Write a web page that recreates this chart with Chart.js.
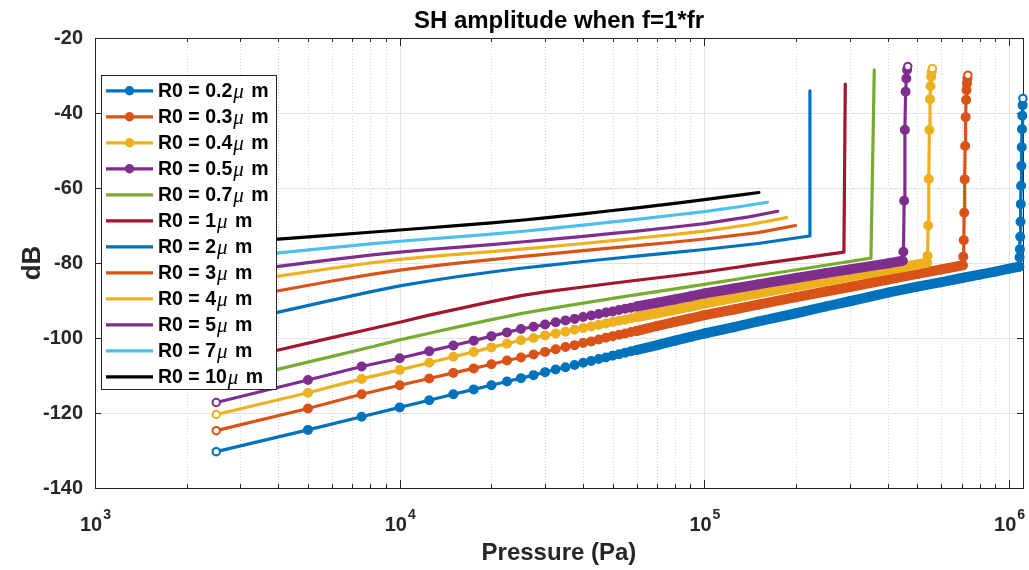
<!DOCTYPE html>
<html><head><meta charset="utf-8">
<script src="https://cdn.jsdelivr.net/npm/chart.js@4.4.1/dist/chart.umd.min.js"></script>
<style>html,body{margin:0;padding:0;background:#fff;}#wrap{width:1029px;height:570px;}</style>
</head><body><div id="wrap"><canvas id="c" width="1029" height="570"></canvas></div>
<script>
// ---------- DATA ----------
const radiusLabels = ['0.2','0.3','0.4','0.5','0.7','1','2','3','4','5','7','10'];
const xTickValues = [1000, 10000, 100000, 1000000];
const xTickBase = ['10','10','10','10'];
const xTickExp = ['3','4','5','6'];
const yTickValues = [-140,-120,-100,-80,-60,-40,-20];

// marker series share this pressure grid (Pa)
const pressureGrid = [2500,5000,7500,10000,12500,15000,17500,20000,22500,25000,27500,30000,32500,35000,37500,40000,42500,45000,47500,50000,52500,55000,57500,60000,70000,80000,90000,100000,125000,150000,200000,250000,300000,400000];
const db_r02 = [-130.3,-124.5,-121.0,-118.5,-116.6,-115.0,-113.7,-112.6,-111.6,-110.7,-109.9,-109.1,-108.4,-107.8,-107.2,-106.6,-106.1,-105.6,-105.2,-104.7,-104.3,-103.9,-103.5,-103.2,-101.9,-100.7,-99.7,-98.8,-97.1,-95.6,-93.4,-91.6,-90.2,-87.9];
const tailP_r02 = [500000,600000,700000,800000,900000,1000000,1080000,1082500,1085000,1087500,1090000,1092500,1095000,1097500,1100000,1102500,1105000,1107500,1110000];
const tailDb_r02 = [-86.3,-85.1,-84.0,-83.1,-82.3,-81.5,-81.0,-78.5,-76.3,-73.0,-69.0,-64.3,-59.4,-54.1,-49.1,-44.3,-40.7,-37.9,-36.1];

const db_r03 = [-124.7,-118.8,-115.0,-112.6,-110.8,-109.3,-108.1,-107.0,-106.0,-105.2,-104.4,-103.7,-103.0,-102.4,-101.9,-101.3,-100.9,-100.4,-99.9,-99.5,-99.1,-98.8,-98.4,-98.1,-96.8,-95.7,-94.8,-93.9,-92.4,-91.1,-89.1,-87.6,-86.4,-84.4];
const tailP_r03 = [500000,600000,705000,707500,710000,712500,715000,717500,720000,722500,725000,727500,730000,732500];
const tailDb_r03 = [-82.9,-81.7,-80.6,-78.3,-73.9,-66.6,-57.7,-48.8,-41.1,-36.5,-33.9,-32.1,-30.8,-29.9];

const db_r04 = [-120.4,-114.6,-110.9,-108.5,-106.6,-105.0,-103.7,-102.5,-101.5,-100.6,-100.0,-99.3,-98.8,-98.3,-97.8,-97.3,-96.9,-96.5,-96.1,-95.7,-95.4,-95.1,-94.7,-94.4,-93.4,-92.4,-91.6,-90.8,-89.3,-88.1,-86.2,-84.8,-83.6,-81.8];
const tailP_r04 = [500000,537500,540000,542500,545000,547500,550000,552500,555000,557500,560000];
const tailDb_r04 = [-80.4,-79.9,-78.1,-70.0,-57.6,-44.5,-36.3,-32.8,-30.3,-29.0,-28.1];

const db_r05 = [-117.2,-111.2,-107.6,-105.4,-103.5,-102.0,-100.7,-99.5,-98.5,-97.6,-97.0,-96.4,-95.8,-95.3,-94.9,-94.4,-94.0,-93.6,-93.2,-92.9,-92.5,-92.2,-91.9,-91.6,-90.6,-89.7,-88.9,-88.1,-86.8,-85.7,-84.0,-82.7,-81.7,-80.1];
const tailP_r05 = [447500,450000,452500,455000,457500,460000,462500,465000];
const tailDb_r05 = [-79.4,-77.0,-63.4,-44.5,-34.3,-30.8,-28.5,-27.6];

// line-only series share this pressure grid (Pa)
const lineGrid = [2500,4000,6000,8000,10000,12500,15000,20000,25000,30000,40000,50000,60000,80000,100000];
const db_r07 = [-112.2,-108.3,-104.9,-102.45,-100.5,-98.75,-97.3,-95.1,-93.5,-92.35,-90.7,-89.45,-88.45,-86.9,-85.7];
const tailP_r07 = [150000,250000,352000,361000];
const tailDb_r07 = [-83.4,-80.6,-78.7,-28.5];
const db_r1 = [-106.9,-103.2,-99.9,-97.6,-95.8,-93.9,-92.5,-90.3,-88.7,-87.7,-86.4,-85.4,-84.6,-83.4,-82.4];
const tailP_r1 = [150000,200000,287000,290000];
const tailDb_r1 = [-80.3,-78.9,-77.1,-32.3];
const db_r2 = [-96.9,-93.1,-89.9,-87.7,-86.1,-84.8,-83.8,-82.4,-81.4,-80.7,-79.6,-78.8,-78.15,-77.15,-76.4];
const tailP_r2 = [150000,221000,222000];
const tailDb_r2 = [-74.8,-72.8,-34.1];
const db_r3 = [-90.6,-87.4,-84.8,-83.1,-81.9,-80.9,-80.15,-79.1,-78.3,-77.7,-76.7,-75.95,-75.35,-74.4,-73.6];
const tailP_r3 = [150000,199000];
const tailDb_r3 = [-71.9,-70.0];
const db_r4 = [-86.1,-83.5,-81.4,-80.0,-79.05,-78.3,-77.75,-76.95,-76.3,-75.75,-74.8,-74.05,-73.4,-72.35,-71.5];
const tailP_r4 = [140000,186000];
const tailDb_r4 = [-69.8,-67.9];
const db_r5 = [-83.3,-80.9,-79.1,-77.9,-77.1,-76.4,-75.9,-75.1,-74.4,-73.85,-72.9,-72.1,-71.5,-70.4,-69.5];
const tailP_r5 = [140000,174000];
const tailDb_r5 = [-67.7,-66.2];
const db_r7 = [-79.2,-77.3,-75.9,-74.9,-74.2,-73.6,-73.1,-72.3,-71.6,-70.95,-69.9,-69.05,-68.35,-67.2,-66.3];
const tailP_r7 = [130000,161000];
const tailDb_r7 = [-65.0,-63.8];
const db_r10 = [-74.9,-73.65,-72.55,-71.8,-71.2,-70.6,-70.1,-69.3,-68.6,-67.95,-66.9,-66.0,-65.3,-64.1,-63.1];
const tailP_r10 = [130000,151000];
const tailDb_r10 = [-61.9,-61.2];

// ---------- STYLE ----------
const C = {blue:'#0072BD', orange:'#D95319', yellow:'#EDB120', purple:'#7E2F8E', green:'#77AC30', lblue:'#4DBEEE', red:'#A2142F', black:'#000000'};
const seriesColors = [C.blue,C.orange,C.yellow,C.purple,C.green,C.red,C.blue,C.orange,C.yellow,C.purple,C.lblue,C.black];
const hasMarker = [true,true,true,true,false,false,false,false,false,false,false,false];
const FONT = "'Liberation Sans', Arial, Helvetica, sans-serif";
const AX = '#262626';

function pts(xs, ys){ return xs.map((x,i)=>({x:x, y:ys[i]})); }
const seriesData = [
  pts(pressureGrid.concat(tailP_r02), db_r02.concat(tailDb_r02)),
  pts(pressureGrid.concat(tailP_r03), db_r03.concat(tailDb_r03)),
  pts(pressureGrid.concat(tailP_r04), db_r04.concat(tailDb_r04)),
  pts(pressureGrid.concat(tailP_r05), db_r05.concat(tailDb_r05)),
  pts(lineGrid.concat(tailP_r07), db_r07.concat(tailDb_r07)),
  pts(lineGrid.concat(tailP_r1), db_r1.concat(tailDb_r1)),
  pts(lineGrid.concat(tailP_r2), db_r2.concat(tailDb_r2)),
  pts(lineGrid.concat(tailP_r3), db_r3.concat(tailDb_r3)),
  pts(lineGrid.concat(tailP_r4), db_r4.concat(tailDb_r4)),
  pts(lineGrid.concat(tailP_r5), db_r5.concat(tailDb_r5)),
  pts(lineGrid.concat(tailP_r7), db_r7.concat(tailDb_r7)),
  pts(lineGrid.concat(tailP_r10), db_r10.concat(tailDb_r10))
];

const datasets = seriesData.map((d,i)=>{
  const col = seriesColors[i];
  const n = d.length;
  const base = {
    label: 'R0 = ' + radiusLabels[i] + 'μ m',
    data: d, borderColor: col, backgroundColor: col,
    borderWidth: 3.2, tension: 0, clip: false, order: 11 - i,
    borderCapStyle: 'round', borderJoinStyle: 'round'
  };
  if (hasMarker[i]) {
    const hollow = idx => idx === 0 || idx === n - 1;
    base.pointRadius = ctx => hollow(ctx.dataIndex) ? 3.7 : 4.3;
    base.pointBorderColor = col;
    base.pointBorderWidth = ctx => hollow(ctx.dataIndex) ? 2.1 : 1.4;
    base.pointBackgroundColor = ctx => hollow(ctx.dataIndex) ? '#ffffff' : col;
    base.segment = { borderWidth: ctx => (ctx.p0.parsed.x >= 60000 && Math.abs(ctx.p1.x-ctx.p0.x) >= Math.abs(ctx.p1.y-ctx.p0.y)) ? 10 : 3.2 };
  } else {
    base.pointRadius = 0;
  }
  return base;
});

const xMinor = [];
[1000,10000,100000].forEach(d=>{ for(let k=2;k<=9;k++) xMinor.push(k*d); });

const matlabAxes = {
  id: 'matlabAxes',
  beforeDatasetsDraw(chart){
    const {ctx, chartArea:a, scales:{x,y}} = chart;
    ctx.save();
    ctx.lineWidth = 1;
    ctx.strokeStyle = '#cdcdcd'; ctx.setLineDash([1,2]);
    xMinor.forEach(v=>{ const p = Math.round(x.getPixelForValue(v))+0.5; ctx.beginPath(); ctx.moveTo(p,a.top); ctx.lineTo(p,a.bottom); ctx.stroke(); });
    ctx.setLineDash([]);
    ctx.strokeStyle = '#e3e3e3';
    xTickValues.forEach(v=>{ const p = Math.round(x.getPixelForValue(v))+0.5; if (p<=a.left+1||p>=a.right-1) return; ctx.beginPath(); ctx.moveTo(p,a.top); ctx.lineTo(p,a.bottom); ctx.stroke(); });
    yTickValues.forEach(v=>{ const p = Math.round(y.getPixelForValue(v))+0.5; if (p<=a.top+1||p>=a.bottom-1) return; ctx.beginPath(); ctx.moveTo(a.left,p); ctx.lineTo(a.right,p); ctx.stroke(); });
    ctx.strokeStyle = AX;
    ctx.strokeRect(Math.round(a.left)+0.5, Math.round(a.top)+0.5, Math.round(a.right-a.left), Math.round(a.bottom-a.top));
    ctx.beginPath();
    yTickValues.forEach(v=>{ const p = Math.round(y.getPixelForValue(v))+0.5; ctx.moveTo(a.left,p); ctx.lineTo(a.left+6,p); ctx.moveTo(a.right,p); ctx.lineTo(a.right-6,p); });
    xTickValues.forEach(v=>{ const p = Math.round(x.getPixelForValue(v))+0.5; ctx.moveTo(p,a.bottom); ctx.lineTo(p,a.bottom-8); ctx.moveTo(p,a.top); ctx.lineTo(p,a.top+8); });
    xMinor.forEach(v=>{ const p = Math.round(x.getPixelForValue(v))+0.5; ctx.moveTo(p,a.bottom); ctx.lineTo(p,a.bottom-4); ctx.moveTo(p,a.top); ctx.lineTo(p,a.top+4); });
    ctx.stroke();
    ctx.restore();
  },
  afterDraw(chart){
    const {ctx, chartArea:a, scales:{x}} = chart;
    ctx.save();
    ctx.fillStyle = AX;
    xTickValues.forEach((v,i)=>{
      const p = x.getPixelForValue(v);
      ctx.font = 'bold 20px ' + FONT; const w1 = ctx.measureText(xTickBase[i]).width;
      ctx.font = 'bold 14px ' + FONT; const w2 = ctx.measureText(xTickExp[i]).width;
      const s = p - (w1+w2)/2;
      ctx.textAlign = 'left'; ctx.textBaseline = 'alphabetic';
      ctx.font = 'bold 20px ' + FONT; ctx.fillText(xTickBase[i], s, 531);
      ctx.font = 'bold 14px ' + FONT; ctx.fillText(xTickExp[i], s + w1 + 1, 519);
    });
    ctx.textAlign = 'center'; ctx.textBaseline = 'alphabetic';
    ctx.font = 'bold 24px ' + FONT;
    ctx.fillText('Pressure (Pa)', (a.left+a.right)/2, 560);
    ctx.save(); ctx.translate(40, 263); ctx.rotate(-Math.PI/2);
    ctx.font = 'bold 26px ' + FONT;
    ctx.fillText('dB', 0, 0); ctx.restore();
    ctx.fillStyle = '#000';
    ctx.font = 'bold 24px ' + FONT;
    ctx.fillText('SH amplitude when f=1*fr', (a.left+a.right)/2, 28);
    // legend
    const lx = 101.5, ly = 75.5, lw = 175, lh = 314;
    ctx.fillStyle = '#fff'; ctx.fillRect(lx, ly, lw, lh);
    ctx.strokeStyle = AX; ctx.lineWidth = 1; ctx.strokeRect(lx, ly, lw, lh);
    chart.data.datasets.forEach((ds,i)=>{
      const ry = 90.8 + 26*i;
      const col = seriesColors[i];
      ctx.strokeStyle = col; ctx.lineWidth = 3.2; ctx.lineCap = 'butt';
      ctx.beginPath(); ctx.moveTo(106, ry); ctx.lineTo(153, ry); ctx.stroke();
      if (hasMarker[i]) { ctx.fillStyle = col; ctx.beginPath(); ctx.arc(129.5, ry, 4.7, 0, Math.PI*2); ctx.fill(); }
      const parts = ds.label.split('μ');
      ctx.fillStyle = '#000'; ctx.textAlign = 'left'; ctx.textBaseline = 'middle';
      let tx = 158;
      ctx.font = 'bold 19.5px ' + FONT; ctx.fillText(parts[0], tx, ry+1); tx += ctx.measureText(parts[0]).width + 1;
      ctx.font = 'italic 21px "Liberation Serif", "DejaVu Serif", serif'; ctx.fillText('μ', tx, ry+2); tx += ctx.measureText('μ').width;
      ctx.font = 'bold 19.5px ' + FONT; ctx.fillText(parts[1], tx + 2, ry+1);
    });
    ctx.restore();
  }
};

new Chart(document.getElementById('c'), {
  type: 'line',
  data: { datasets: datasets },
  options: {
    responsive: false, animation: false, events: [], devicePixelRatio: 1,
    layout: { padding: { top: 38, right: 6, bottom: 0, left: 0 } },
    plugins: { legend: { display: false }, title: { display: false }, tooltip: { enabled: false } },
    scales: {
      x: { type: 'logarithmic', min: 1000, max: 1110000,
           grid: { display: false, drawTicks: false }, border: { display: false },
           ticks: { display: false },
           afterFit(s){ s.height = 82; } },
      y: { type: 'linear', min: -140, max: -20,
           grid: { display: false, drawTicks: false }, border: { display: false },
           ticks: { stepSize: 20, padding: 12, color: AX, font: { family: FONT, size: 20, weight: 'bold' } },
           afterFit(s){ s.width = 95; } }
    }
  },
  plugins: [matlabAxes]
});
</script></body></html>
